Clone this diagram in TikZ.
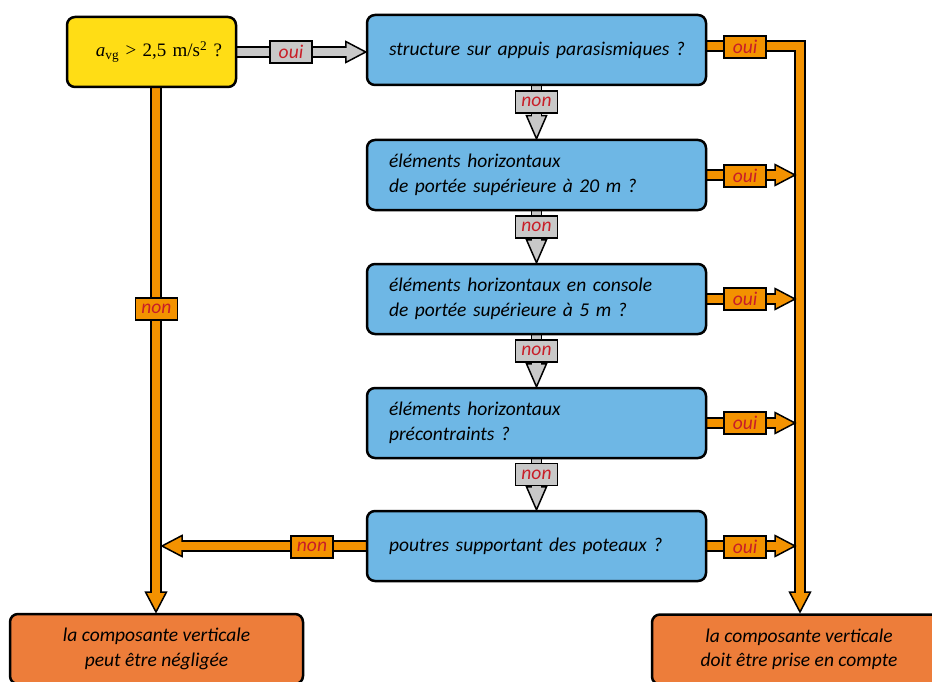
\documentclass[tikz,border=0pt]{standalone}
\usepackage{fontspec}
\setmainfont{Carlito}
\newfontfamily\serifA{Liberation Serif}
\usetikzlibrary{calc,backgrounds}
\definecolor{yel}{RGB}{255,221,21}
\definecolor{blu}{RGB}{110,183,229}
\definecolor{obox}{RGB}{237,125,58}
\definecolor{arr}{RGB}{243,146,0}
\definecolor{gry}{RGB}{200,200,200}
\definecolor{lbl}{RGB}{200,30,40}
\newcommand\ind{\hspace*{5.5pt}}
\newcommand\shaft[3]{% color, from, to(base)
  \draw[line width=11.5pt, black] (#2) -- (#3);
  \draw[line width=8.5pt, #1] (#2) -- ($(#3)!-2.5pt!(#2)$);}
\tikzset{
  hR/.pic={\filldraw[fill=#1, draw=black, line width=1.5pt, line join=miter] (0,0) -- (-20,-10.5) -- (-20,10.5) -- cycle;},
  hL/.pic={\filldraw[fill=#1, draw=black, line width=1.5pt, line join=miter] (0,0) -- (20,-10.5) -- (20,10.5) -- cycle;},
  hD/.pic={\filldraw[fill=#1, draw=black, line width=1.5pt, line join=miter] (0,0) -- (-10.5,-20) -- (10.5,-20) -- cycle;},
  hDg/.pic={\filldraw[fill=#1, draw=black, line width=1.5pt, line join=miter] (0,0) -- (-10,-23) -- (10,-23) -- cycle;},
  bx/.style={draw=black, line width=2.5pt, rounded corners=8pt, inner sep=0pt,
    font=\fontsize{19.5}{24.5}\selectfont\itshape},
  bluebox/.style={bx, fill=blu, minimum width=339pt, minimum height=70pt,
    text width=306pt, inner xsep=16.5pt, align=left},
  endbox/.style={bx, fill=obox, minimum height=70pt, align=center},
  lab/.style={draw=black, line width=1.5pt, minimum width=42pt, minimum height=22pt,
    inner sep=0pt, text=lbl, font=\fontsize{19.5}{20}\selectfont\itshape},
  labG/.style={lab, fill=gry},
  labO/.style={lab, fill=arr},
}
\begin{document}
\begin{tikzpicture}[x=1pt,y=-1pt]
\useasboundingbox (0,0) rectangle (932,682);
% boxes
\node[bx, fill=yel, minimum width=169pt, minimum height=70pt, text width=141pt,
      inner xsep=14pt, align=right, font=\fontsize{19}{24}\serifA] (y1) at (151.5,52)
      {\textit{a}\textsubscript{vg} > 2,5 m/s\textsuperscript{2} ?};
\node[bluebox] (b1) at (536.5,50) {\ind structure sur appuis parasismiques ?};
\node[bluebox] (b2) at (536.5,175) {\ind éléments horizontaux\\\ind de portée supérieure à 20 m ?};
\node[bluebox] (b3) at (536.5,299) {\ind éléments horizontaux en console\\\ind de portée supérieure à 5 m ?};
\node[bluebox] (b4) at (536.5,423) {\ind éléments horizontaux\\\ind précontraints ?};
\node[bluebox] (b5) at (536.5,546) {\ind poutres supportant des poteaux ?};
\node[endbox, minimum width=293pt] (eL) at (156.5,649) {la composante verticale\\peut être négligée};
\node[endbox, minimum width=294pt] (eR) at (799,649.5) {la composante verticale\\doit être prise en compte};
% coordinates
\coordinate (rt) at (800,46);
\coordinate (rb) at (800,612);
\coordinate (lb) at (156,612);
\coordinate (t2) at (795,175);
\coordinate (t3) at (795,299);
\coordinate (t4) at (795,423);
\coordinate (t5) at (795,546);
\coordinate (tl) at (162,546);
\begin{scope}[on background layer]
  % gray yes arrow
  \pic at (b1.west |- y1.east) {hR=gry};
  \shaft{gry}{y1.east}{$(b1.west |- y1.east)+(-20,0)$}
  % gray no arrows
  \foreach \a/\b in {b1/b2,b2/b3,b3/b4,b4/b5}{
    \pic at (\b.north) {hDg=gry};
    \shaft{gry}{\a.south}{$(\b.north)+(0,-23)$}
  }
  % left vertical
  \pic at (lb) {hD=arr};
  \shaft{arr}{y1.south -| lb}{$(lb)+(0,-20)$}
  % right L path
  \pic at (rb) {hD=arr};
  \draw[line width=11.5pt, black, line join=miter] (b1.east |- rt) -- (rt) -- ($(rb)+(0,-20)$);
  \draw[line width=8.5pt, arr, line join=miter] (b1.east |- rt) -- (rt) -- ($(rb)+(0,-17.5)$);
  % right horizontal yes arrows
  \foreach \b/\t in {b2/t2,b3/t3,b4/t4,b5/t5}{
    \pic at (\t) {hR=arr};
    \shaft{arr}{\b.east}{$(\t)+(-20,0)$}
  }
  % left horizontal no arrow
  \pic at (tl) {hL=arr};
  \shaft{arr}{b5.west}{$(tl)+(20,0)$}
\end{scope}
% labels
\node[labG] (lo1) at (291,52) {oui};
\node[labG] (ln1) at (536.5,102) {non};
\node[labG] (ln2) at (536.5,227) {non};
\node[labG] (ln3) at (536.5,351) {non};
\node[labG] (ln4) at (536.5,474.5) {non};
\node[labO] (lnl) at (156.5,309) {non};
\node[labO] (lnb) at (312,547) {non};
\node[labO] (lr1) at (745,47) {oui};
\node[labO] (lr2) at (745,176) {oui};
\node[labO] (lr3) at (745,299) {oui};
\node[labO] (lr4) at (745,423) {oui};
\node[labO] (lr5) at (745,547) {oui};
\end{tikzpicture}
\end{document}
